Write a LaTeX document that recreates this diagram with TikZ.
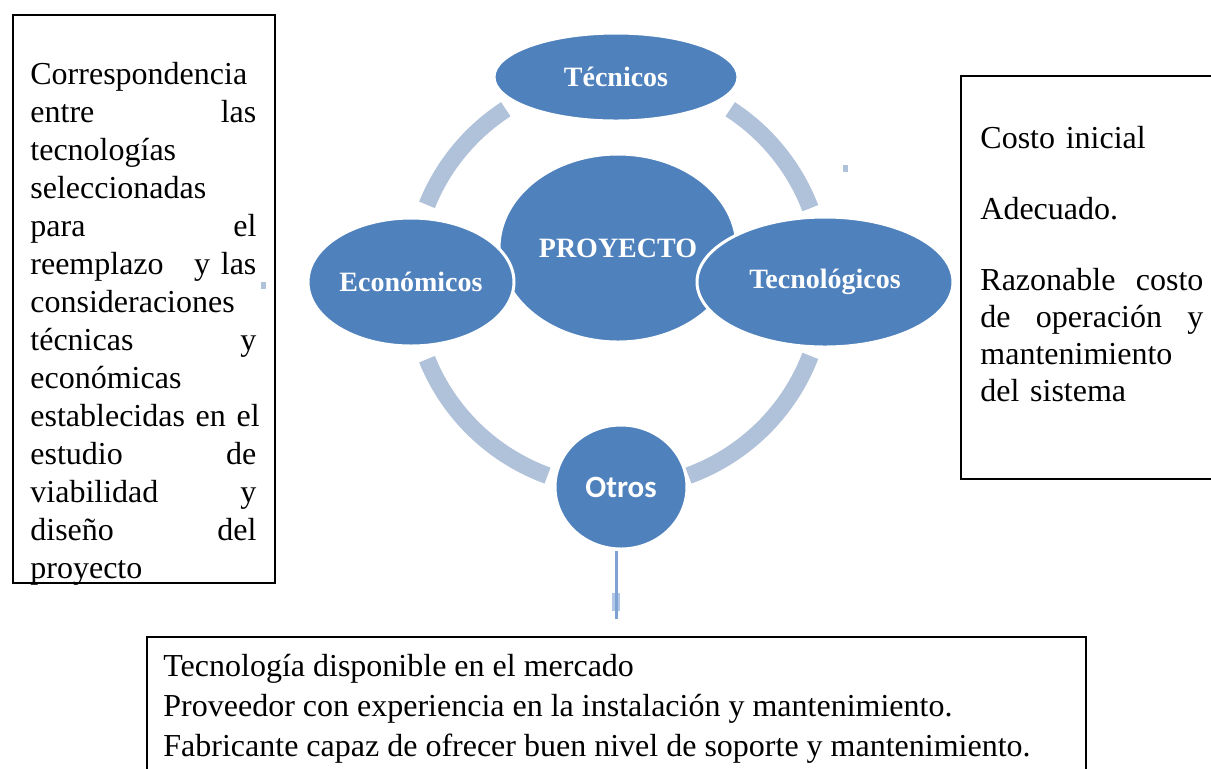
\documentclass[tikz,border=0pt]{standalone}
\usepackage{fontspec}
\setmainfont{Liberation Serif}
\newfontfamily\otrosfont{Carlito}
\usetikzlibrary{shapes.geometric,calc}
\definecolor{smblue}{HTML}{4F81BD}
\definecolor{smring}{HTML}{B0C1DA}
\definecolor{smline}{HTML}{7DA2D3}

\begin{document}
\begin{tikzpicture}[
  x=0.5pt,y=-0.5pt,
  every node/.style={font=\fontsize{16}{19}\selectfont},
  blob/.style={ellipse,fill=smblue,draw=white,line width=1.5pt,
               text=white,inner sep=0pt,
               font=\fontsize{14}{16}\selectfont\bfseries},
  panel/.style={draw=black,line width=1pt,inner sep=0pt,anchor=north west},
  txt/.style={anchor=north west,inner sep=0pt,align=left},
  ring/.style={smring,line width=8.5pt},
  lnk/.style={smline,line width=1.5pt}
]
\clip (0,0) rectangle (1211,768);

% cajas de texto
\node[panel,minimum width=131pt,minimum height=284pt] (izq) at (12,14) {};
\node[panel,minimum width=132.5pt,minimum height=201.5pt] (der) at (960,75) {};
\node[panel,minimum width=469.5pt,minimum height=77pt] (inf) at (146,636) {};

\node[txt,text width=113pt] (izqtxt) at (30,62)
  {Correspondencia\\ entre\hfill las\\ tecnologías\\ seleccionadas\\
   para\hfill el\\ reemplazo\hfill y las\\ consideraciones\\
   técnicas\hfill y\\ económicas\\ \makebox[\linewidth][l]{establecidas en el}\\
   estudio\hfill de\\ viabilidad\hfill y\\ diseño\hfill del\\ proyecto};
\node[txt,text width=111.5pt,font=\fontsize{16}{18.5}\selectfont] (dertxt) at (980,126)
  {Costo inicial\\[17pt] Adecuado.\\[17pt] Razonable\hfill costo\\
   de\hfill operación\hfill y\\ mantenimiento\\ del sistema};
\node[txt,font=\fontsize{16}{20}\selectfont] (inftxt) at (163,654)
  {Tecnología disponible en el mercado\\
   Proveedor con experiencia en la instalación y mantenimiento.\\
   Fabricante capaz de ofrecer buen nivel de soporte y mantenimiento.};

% anillo
\coordinate (c) at (618,282);
\foreach \a/\b in {21/57,123/158,202/250,290/339}
  \draw[ring] (c) ++(-\a:206) arc[start angle=-\a,end angle=-\b,radius=206];

% elipses
\node[blob,minimum width=119pt,minimum height=94pt] (proy) at (618,248) {PROYECTO};
\node[blob,minimum width=122pt,minimum height=44pt] (tec) at (616,77) {Técnicos};
\node[blob,minimum width=103pt,minimum height=64pt] (eco) at (411,282) {Económicos};
\node[blob,minimum width=128pt,minimum height=65pt] (tgl) at (825,282) {Tecnológicos};
\node[blob,minimum width=66pt,minimum height=62pt,
      font=\fontsize{15.5}{17}\selectfont\otrosfont\bfseries] (otr) at (621,487) {Otros};

\coordinate (fin) at (616,619);
\draw[lnk] (otr.south -| fin) -- (fin);
\draw[lnk,line width=4pt,opacity=.6] ($(fin)+(0,-26)$) -- ($(fin)+(0,-8)$);

\fill[smring] (261,282) rectangle (266,289);
\fill[smring] (843,165) rectangle (848,172);
\end{tikzpicture}
\end{document}
